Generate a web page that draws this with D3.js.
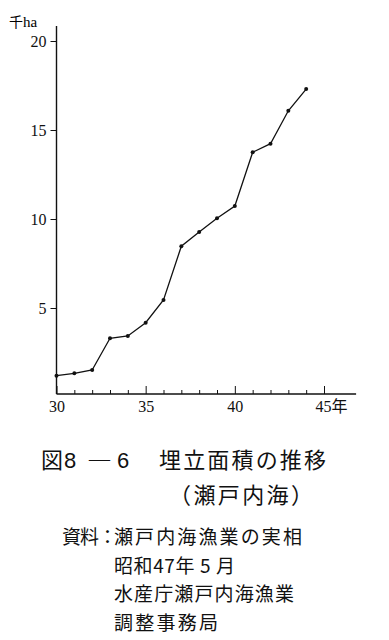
<!DOCTYPE html>
<html>
<head>
<meta charset="utf-8">
<script src="https://cdn.jsdelivr.net/npm/d3@7"></script>
<style>
  body { margin: 0; background: #fff; }
  svg { display: block; }
  .axis path, .axis line { stroke: #111; }
  .axis text { font-family: "Liberation Serif", serif; font-size: 16px; fill: #111; }
  .jp { font-family: "Noto Sans CJK JP", sans-serif; fill: #111; }
</style>
</head>
<body>
<svg class="chart" width="389" height="640"></svg>
<script>
// Years (Showa), reclaimed area in 1000 ha
var years = [30, 31, 32, 33, 34, 35, 36, 37, 38, 39, 40, 41, 42, 43, 44];
var area = [1.20, 1.33, 1.52, 3.30, 3.43, 4.17, 5.45, 8.47, 9.27, 10.04, 10.73, 13.75, 14.23, 16.08, 17.30];
var yTicks = [5, 10, 15, 20];
var xMajor = [30, 35, 40, 45];
var xMinor = [31, 32, 33, 34, 36, 37, 38, 39, 41, 42, 43, 44];
var yUnit = "千ha";
var xUnit = "年";
var titleParts = ["図", "8", "―", "6", "埋立面積の推移"];
var subTitle = "（瀬戸内海）";
var sourceLabel = "資料：";
var sourceLines = ["瀬戸内海漁業の実相", "昭和47年 5 月", "水産庁瀬戸内海漁業", "調整事務局"];

var svg = d3.select(".chart");

//Scales
var x = d3.scaleLinear().domain([30, 45]).range([56.5, 324]);
var y = d3.scaleLinear().domain([0, 20]).range([397, 41]);
var baseY = 394;

//Y axis
var yAxis = svg.append("g")
    .attr("class", "axis")
    .attr("transform", "translate(" + x(30) + ",0)")
    .call(d3.axisLeft(y).tickValues(yTicks).tickSize(6).tickPadding(4))
    .attr("font-family", null).attr("font-size", null);
yAxis.select(".domain").remove();
yAxis.append("line")
    .attr("x1", 0).attr("x2", 0)
    .attr("y1", baseY).attr("y2", y(20) - 15)
    .attr("stroke", "#111").attr("stroke-width", 1.4);

//X axis: minor ticks
var xMin = svg.append("g")
    .attr("class", "axis")
    .attr("transform", "translate(0," + baseY + ")")
    .call(d3.axisBottom(x).tickValues(xMinor).tickSize(-4).tickFormat(""));
xMin.select(".domain").remove();

//X axis: major ticks with labels
var xMaj = svg.append("g")
    .attr("class", "axis")
    .attr("transform", "translate(0," + baseY + ")")
    .call(d3.axisBottom(x).tickValues(xMajor).tickSize(-8).tickPadding(7))
    .attr("font-family", null).attr("font-size", null);
xMaj.select(".domain").remove();
xMaj.selectAll(".tick text")
    .filter(function(d){ return d === 45; })
    .attr("text-anchor", "start")
    .attr("x", -9)
    .append("tspan")
    .attr("class", "jp")
    .style("font-size", "16px")
    .text(xUnit);
xMaj.append("line")
    .attr("x1", x(30)).attr("x2", x(46.8))
    .attr("y1", 0).attr("y2", 0)
    .attr("stroke", "#111").attr("stroke-width", 1.4);

//Unit label on top of y axis
svg.append("text")
    .attr("x", 9).attr("y", 27)
    .style("font-size", "14px")
    .style("font-family", "'Noto Sans CJK JP', serif")
    .text(yUnit.charAt(0))
    .append("tspan")
    .style("font-family", "'Liberation Serif', serif")
    .style("font-size", "15px")
    .text(yUnit.slice(1));

//Data line
var line = d3.line()
    .x(function(d, i){ return x(years[i]); })
    .y(function(d){ return y(d); });

svg.append("path")
    .datum(area)
    .attr("d", line)
    .attr("fill", "none")
    .attr("stroke", "#111")
    .attr("stroke-width", 1.3);

svg.selectAll("circle.pt")
    .data(area)
    .enter().append("circle")
    .attr("class", "pt")
    .attr("cx", function(d, i){ return x(years[i]); })
    .attr("cy", function(d){ return y(d); })
    .attr("r", 2)
    .attr("fill", "#111");

//Caption
var title = svg.append("text")
    .attr("class", "jp")
    .attr("y", 468)
    .style("font-size", "22px");
var titleX = [41, 64, 87, 117, 159];
titleParts.forEach(function(t, i){
    var ts = title.append("tspan").attr("x", titleX[i]).text(t);
    if (i === 1 || i === 3) ts.style("font-family", "'Liberation Sans', sans-serif").style("font-size", "22px");
    if (i === 2) ts.attr("textLength", 25).attr("lengthAdjust", "spacingAndGlyphs");
    if (i === 4) ts.attr("textLength", 167).attr("lengthAdjust", "spacing");
});

svg.append("text")
    .attr("class", "jp")
    .attr("x", 169).attr("y", 503)
    .attr("textLength", 144)
    .attr("lengthAdjust", "spacing")
    .style("font-size", "22px")
    .text(subTitle);

//Source
svg.append("text")
    .attr("class", "jp")
    .attr("x", 62).attr("y", 544)
    .attr("textLength", 55)
    .attr("lengthAdjust", "spacing")
    .style("font-size", "19px")
    .text(sourceLabel);

var srcLen = [188, 121, 180, 104];
sourceLines.forEach(function(s, i){
    svg.append("text")
        .attr("class", "jp")
        .attr("x", 114).attr("y", 544 + i * 28.5)
        .attr("textLength", srcLen[i])
        .attr("lengthAdjust", "spacing")
        .style("font-size", "19px")
        .text(s);
});
</script>
</body>
</html>
